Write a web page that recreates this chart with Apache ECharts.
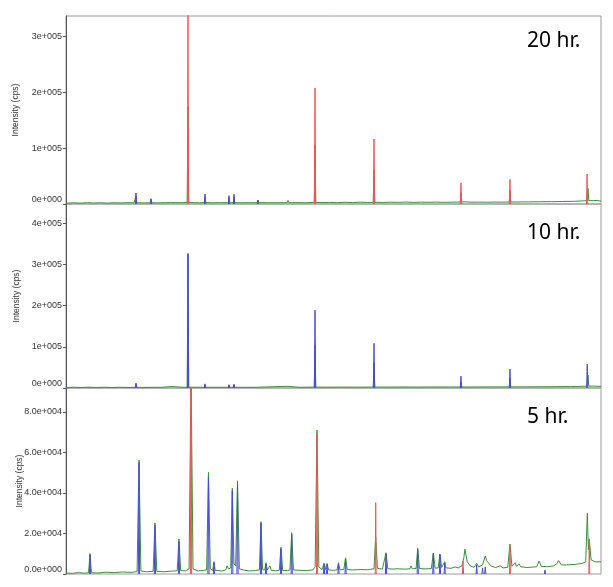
<!DOCTYPE html>
<html>
<head>
<meta charset="utf-8">
<script src="https://cdn.jsdelivr.net/npm/echarts@6/dist/echarts.min.js"></script>
<style>html,body{margin:0;padding:0;background:#fff}#c{width:613px;height:587px}</style>
</head>
<body>
<div id="c"></div>
<script>
// ---- Data (2-theta in degrees, intensity in cps) ----
var panelLabels = ['20 hr.', '10 hr.', '5 hr.'];
var yName = 'Intensity (cps)';
var ticks20 = [0, 100000, 200000, 300000];
var ticks10 = [0, 100000, 200000, 300000, 400000];
var ticks5 = [0, 20000, 40000, 60000, 80000];

// 20 hr. observed profile
var green20 = [[10,1500],[11,2200],[12,1600],[12.8,2400],[13.6,1800],[14.5,2300],[15.4,1700],[16.3,2200],[17.2,1900],[18.1,2500],[18.9,2000],
[19.06,2200],[19.16,15000],[19.26,2200],[20.2,2000],[21.02,2200],[21.12,8000],[21.22,2200],[22.0,2100],[23.0,2400],[23.64,2500],[23.74,5500],[23.84,2500],[24.29,2500],[24.39,5000],[24.49,2500],[25.2,2300],
[25.86,3000],[25.96,174000],[26.06,3000],[26.8,2400],[27.5,2200],[28.09,2500],[28.19,13000],[28.29,2500],[29.2,2200],[30.2,2400],[31.23,2400],[31.33,11000],[31.43,2400],[31.88,2400],[31.98,13000],[32.08,2400],
[33.0,2200],[34.0,2300],[35.02,2400],[35.12,7000],[35.22,2400],[36.5,2300],[37.64,2300],[37.74,5500],[37.84,2300],[38.95,2300],[39.05,6500],[39.15,2300],
[40.5,2400],[41.5,2200],[42.48,3000],[42.58,106000],[42.68,3000],[43.5,2500],[44.5,2800],[45.5,2400],[46.5,3000],[47.5,2600],[48.5,3200],[49.5,2800],
[50.2,3000],[50.3,61000],[50.4,3000],[51.5,2800],[52.5,3200],[53.5,3000],[54.5,3400],[55.5,2900],[56.5,3300],[57.5,3100],[58.5,3400],[59.5,3000],[60.5,3300],
[61.58,3500],[61.68,19700],[61.78,3500],[62.2,4000],[63.0,3300],[64.0,3400],[65.0,3200],[66.0,3500],[67.0,3300],
[67.99,3500],[68.09,23800],[68.19,3500],[69.0,3600],[70.5,3800],[72.0,4000],[73.5,4200],[75.0,4500],[76.5,4800],[77.5,5500],
[78.2,6000],[78.3,28000],[78.4,6000],[79.0,6000],[79.5,6500],[80,5000]];
var red20 = [[[25.88,0],[25.96,345000],[26.04,0]],[[42.5,0],[42.58,208000],[42.66,0]],[[50.22,0],[50.3,116500],[50.38,0]],
[[61.6,0],[61.68,38000],[61.76,0]],[[68.01,0],[68.09,44000],[68.17,0]],[[78.1,0],[78.18,53800],[78.26,0]]];
var blue20 = [[[19.08,0],[19.16,19700],[19.24,0]],[[21.04,0],[21.12,9500],[21.2,0]],[[28.11,0],[28.19,18000],[28.27,0]],
[[31.25,0],[31.33,15000],[31.41,0]],[[31.9,0],[31.98,17400],[32.06,0]],[[35.04,0],[35.12,7000],[35.2,0]]];

// 10 hr.
var green10 = [[10,1200],[11,1800],[12,1300],[13,1900],[14,1400],[15,1800],[16,1300],[17,1700],[18,1400],[19.06,1600],[19.16,9000],[19.26,1600],
[20.2,1500],[21.02,1600],[21.12,5000],[21.22,1600],[22.5,1700],[23.74,3500],[24.39,3000],[25.2,1800],
[25.86,2000],[25.96,325000],[26.06,2000],[27,1800],[28.09,1800],[28.19,8000],[28.29,1800],[29.5,1700],[31.23,1800],[31.33,7000],[31.43,1800],[31.88,1800],[31.98,8000],[32.08,1800],
[33.5,1700],[35.02,1800],[35.12,4500],[35.22,1800],[37.74,3500],[39.05,4000],[40.5,1800],[42.48,2200],[42.58,104000],[42.68,2200],
[44,2000],[46,2200],[48,2000],[50.2,2300],[50.3,61000],[50.4,2300],[52,2200],[54,2400],[56,2300],[58,2500],[60,2400],[61.58,2500],[61.68,14500],[61.78,2500],
[63,2500],[65,2600],[67.99,2700],[68.09,24000],[68.19,2700],[70,2800],[72,3000],[74,3200],[76,3500],[77.5,4000],[78.2,4500],[78.3,31500],[78.4,4500],[79,4500],[80,4000]];
var blue10 = [[[19.08,0],[19.16,12000],[19.24,0]],[[25.88,0],[25.96,327000],[26.04,0]],[[28.11,0],[28.19,10000],[28.27,0]],
[[31.25,0],[31.33,8000],[31.41,0]],[[31.9,0],[31.98,9000],[32.06,0]],[[42.5,0],[42.58,189000],[42.66,0]],[[50.22,0],[50.3,108500],[50.38,0]],
[[61.6,0],[61.68,29000],[61.76,0]],[[68.01,0],[68.09,46000],[68.17,0]],[[78.12,0],[78.2,58000],[78.28,0]]];

// 5 hr.
var green5 = [[10,500],[10.8,300],[11.6,700],[12.4,400],[12.95,600],[13.14,10100],[13.33,600],
[14.2,500],[15.2,900],[16.3,700],[17.4,1000],[18.5,800],[19.3,1200],[19.55,56200],
[19.8,1500],[20.5,1100],[21.4,1300],[21.64,25200],[21.88,1300],[22.8,1100],[23.8,1400],[24.55,1600],[24.78,17300],[25.0,1700],[25.6,1500],[26.1,2500],
[26.36,100000],[26.62,2500],[27.3,1500],[28.4,2000],[28.64,50200],[28.88,2500],[29.2,1800],[29.36,6100],[29.52,1800],
[30.4,1500],[30.9,2000],[31.07,4000],[31.25,2500],[31.55,3000],[31.76,42300],[31.98,5000],[32.2,4000],[32.44,46000],[32.68,2500],[33.2,2000],
[34.0,1500],[34.8,1700],[35.3,2000],[35.51,25800],[35.72,2200],[36.0,2000],[36.17,5600],[36.35,2000],[36.55,1800],[36.69,4000],[36.85,1800],
[37.4,1600],[37.9,1800],[38.13,13200],[38.35,1800],[39.0,1700],[39.3,2000],[39.53,20400],[39.76,2000],
[40.5,1800],[41.5,1700],[42.3,2000],[42.6,3500],[42.84,71000],[43.08,3500],[43.5,2200],[43.76,5300],[43.95,2200],[44.15,5200],[44.35,2000],
[45.0,1800],[45.45,2000],[45.65,5600],[45.85,2000],[46.35,2300],[46.58,8000],[46.8,2200],
[47.5,2000],[48.5,2200],[49.5,2100],[50.3,2600],[50.52,18300],[50.75,2800],[51.4,2400],[51.65,2600],[51.87,10500],[52.1,2600],
[52.8,2400],[53.3,2600],[53.44,3500],[53.6,2500],[54.5,2400],[55.0,2600],[55.14,4000],[55.3,2600],[55.8,2700],[56.02,12700],[56.25,2700],
[57.0,2500],[57.8,2700],[58.06,10400],[58.3,2900],[58.7,3000],[58.93,9900],[59.15,3200],[59.4,3100],[59.55,6100],[59.7,3000],
[60.4,2800],[60.9,3500],[61.3,3000],[61.8,4000],[62.05,8000],[62.2,12200],[62.5,6000],[62.9,4000],[63.4,3300],[63.73,5300],[64.0,3500],
[64.5,4500],[64.86,8900],[65.05,6500],[65.25,7000],[65.6,4000],[66.2,3200],[66.78,4000],[67.2,3000],[67.8,3300],[68.09,14800],[68.35,3800],
[68.6,4000],[68.75,5500],[68.95,3800],[69.1,3800],[69.27,5000],[69.5,3600],[70.3,3200],[71.0,3400],[71.6,3600],[71.89,6400],[72.2,3800],
[73.0,3600],[73.8,4000],[74.2,5000],[74.46,6600],[74.8,4500],[75.5,4500],[76.5,4700],[77.5,5200],[78.0,6000],[78.21,30000],[78.35,12000],[78.47,17300],[78.7,7000],[79.2,6000],[80,6000]];
var red5 = [[[26.28,0],[26.36,160000],[26.44,0]],[[42.78,0],[42.84,69500],[42.9,0]],[[50.46,0],[50.52,35200],[50.58,0]],
[[61.88,0],[61.94,6300],[62.0,0]],[[68.03,0],[68.09,13500],[68.15,0]],[[78.41,0],[78.47,17000],[78.53,0]]];
var blue5 = [[[13.06,0],[13.14,9500],[13.22,0]],[[19.47,0],[19.55,55000],[19.63,0]],[[21.56,0],[21.64,24000],[21.72,0]],
[[24.7,0],[24.78,16000],[24.86,0]],[[28.56,0],[28.64,48000],[28.72,0]],[[29.28,0],[29.36,5500],[29.44,0]],
[[31.68,0],[31.76,41000],[31.84,0]],[[32.36,0],[32.44,44500],[32.52,0]],[[35.43,0],[35.51,25000],[35.59,0]],
[[36.09,0],[36.17,5000],[36.25,0]],[[38.05,0],[38.13,12500],[38.21,0]],[[39.45,0],[39.53,19500],[39.61,0]],
[[43.68,0],[43.76,5000],[43.84,0]],[[44.07,0],[44.15,4800],[44.23,0]],[[45.57,0],[45.65,5000],[45.73,0]],
[[46.5,0],[46.58,7500],[46.66,0]],[[51.79,0],[51.87,10000],[51.95,0]],[[55.94,0],[56.02,12000],[56.1,0]],
[[57.98,0],[58.06,10000],[58.14,0]],[[58.85,0],[58.93,9500],[59.01,0]],[[59.47,0],[59.55,5500],[59.63,0]],
[[61.86,0],[61.94,3000],[62.02,0]],[[63.65,0],[63.73,4500],[63.81,0]],[[64.42,0],[64.5,3000],[64.58,0]],
[[64.78,0],[64.86,3500],[64.94,0]],[[72.59,0],[72.67,2000],[72.75,0]]];

// ---- Build chart ----
function joinPeaks(list) {
  var out = [];
  list.forEach(function (pk, i) {
    if (i > 0) out.push([pk[0][0], '-']);
    pk.forEach(function (p) { out.push(p); });
  });
  return out;
}
function sci(v, d) {
  var s = v.toExponential(d);
  var parts = s.split('e');
  var e = parts[1];
  return parts[0] + 'e' + e[0] + e.slice(1).padStart(3, '0');
}
var GREEN = '#3b8e3b', RED = '#ee5555', BLUE = '#4a4ad6';
var grids = [
  {left: 66, top: 16, width: 535, height: 188},
  {left: 66, top: 204, width: 535, height: 184},
  {left: 66, top: 388, width: 535, height: 186}
];
var yMax = [337000, 447000, 91800];
var yTicks = [ticks20, ticks10, ticks5];
var decimals = [0, 0, 1];
var nameGaps = [46, 45, 42];
var greens = [green20, green10, green5];
var reds = [red20, null, red5];
var blues = [blue20, blue10, blue5];

var option = {
  animation: false,
  backgroundColor: '#fff',
  grid: grids.map(function (g) { return Object.assign({show: true, borderColor: '#9a9a9a', borderWidth: 1, backgroundColor: 'transparent', containLabel: false, outerBoundsMode: 'none'}, g); }),
  title: panelLabels.map(function (t, i) {
    return {text: t, left: 527, top: [31, 223, 407][i], padding: 0,
      textStyle: {fontFamily: 'Noto Sans', fontWeight: 'normal', fontSize: 21, color: '#000'}};
  }),
  xAxis: grids.map(function (g, i) {
    return {type: 'value', gridIndex: i, min: 10, max: 80, show: true,
      axisLine: {show: false}, axisTick: {show: false}, axisLabel: {show: false}, splitLine: {show: false}};
  }),
  yAxis: grids.map(function (g, i) {
    return {type: 'value', gridIndex: i, min: 0, max: yMax[i],
      name: yName, nameLocation: 'middle', nameGap: nameGaps[i], nameMoveOverlap: false,
      nameTextStyle: {fontFamily: 'Liberation Sans', fontSize: 8.5, color: '#333'},
      axisLine: {show: true, lineStyle: {color: '#555', width: 1}},
      axisTick: {show: true, length: 3, lineStyle: {color: '#555'}, customValues: yTicks[i]},
      axisLabel: {margin: 4, color: '#333', fontFamily: 'Liberation Sans', fontSize: 9,
        customValues: yTicks[i],
        formatter: function (v) { var s = sci(v, decimals[i]); return v === 0 ? '{z|' + s + '}' : s; },
        rich: {z: {fontFamily: 'Liberation Sans', fontSize: 9, color: '#333', padding: [0, 0, 8, 0]}}},
      splitLine: {show: false}};
  }),
  series: []
};
for (var i = 0; i < 3; i++) {
  option.series.push({type: 'line', xAxisIndex: i, yAxisIndex: i, data: greens[i], showSymbol: false, symbol: 'none',
    lineStyle: {color: GREEN, width: 1}, z: 2});
  if (blues[i]) option.series.push({type: 'line', xAxisIndex: i, yAxisIndex: i, data: joinPeaks(blues[i]), symbol: 'none',
    connectNulls: false, lineStyle: {color: BLUE, width: 1}, z: 3});
  if (reds[i]) option.series.push({type: 'line', xAxisIndex: i, yAxisIndex: i, data: joinPeaks(reds[i]), symbol: 'none',
    connectNulls: false, lineStyle: {color: RED, width: 1}, z: 4});
}
var chart = echarts.init(document.getElementById('c'), null, {renderer: 'canvas'});
chart.setOption(option);
</script>
</body>
</html>
